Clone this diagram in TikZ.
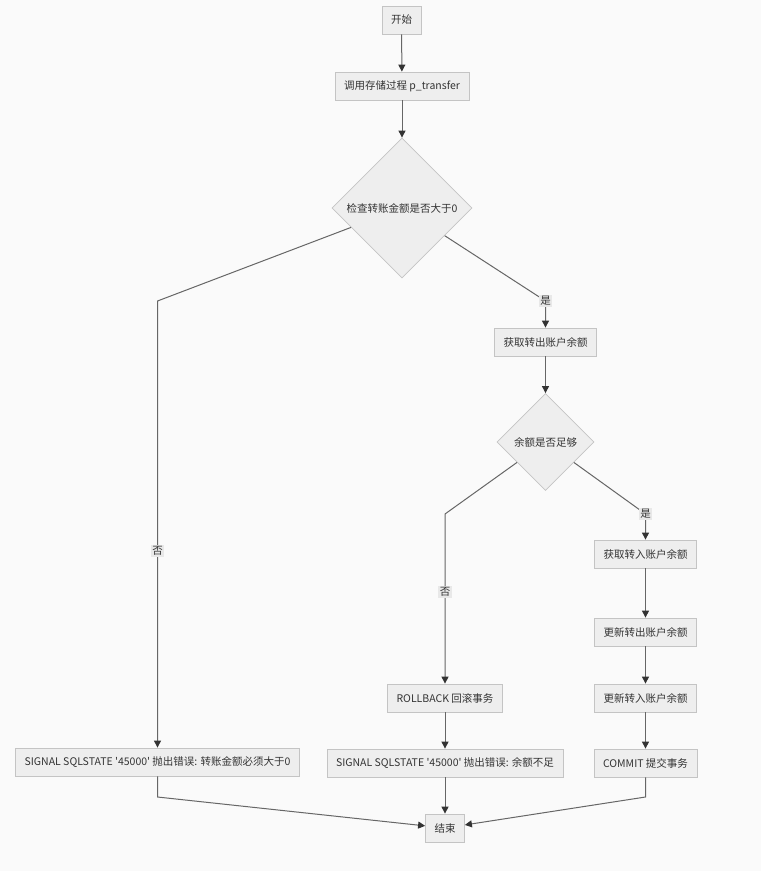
\documentclass[tikz,border=0pt]{standalone}
\usepackage{fontspec}
\setmainfont{Noto Sans CJK SC}
\usetikzlibrary{arrows.meta, positioning, shapes.geometric}
\definecolor{pagebg}{HTML}{FAFAFA}
\definecolor{boxfill}{HTML}{EEEEEE}
\definecolor{boxline}{HTML}{C4C4C4}
\definecolor{linegray}{HTML}{666666}
\definecolor{tipgray}{HTML}{333333}
\definecolor{textgray}{HTML}{333333}
\definecolor{labelfill}{HTML}{E8E8E8}

\begin{document}
\begin{tikzpicture}[x=1pt, y=-1pt,
    every node/.style={font=\fontsize{10.5}{12}\selectfont, text=textgray, align=center},
    procbox/.style={draw=boxline, fill=boxfill, rectangle, line width=0.8pt,
                    minimum height=28pt, inner xsep=9pt},
    decide/.style ={draw=boxline, fill=boxfill, diamond, line width=0.8pt, inner sep=0pt},
    arr/.style={-{Triangle[length=7pt,width=7pt,color=tipgray]}, draw=linegray, line width=1pt},
    elabel/.style={fill=labelfill, inner sep=1.5pt}
]
\fill[pagebg] (0,0) rectangle (761,871);
\useasboundingbox (0,0) rectangle (761,871);

\node[procbox] (start)   at (401.5, 20)  {开始};
\node[procbox] (call)    at (402,   86)  {调用存储过程 p\_transfer};
\node[decide, minimum width=140pt, minimum height=140pt] (chk) at (402, 208) {检查转账金额是否大于0};
\node[procbox] (getout)  at (545.5, 342) {获取转出账户余额};
\node[decide, minimum width=97pt, minimum height=97pt] (enough) at (545.5, 442) {余额是否足够};
\node[procbox] (getin)   at (645.5, 554) {获取转入账户余额};
\node[procbox] (updout)  at (645.5, 632) {更新转出账户余额};
\node[procbox] (updin)   at (645.5, 698) {更新转入账户余额};
\node[procbox] (commit)  at (645.5, 763) {COMMIT 提交事务};
\node[procbox] (rollbk)  at (445,   698) {ROLLBACK 回滚事务};
\node[procbox] (err2)    at (445,   763) {SIGNAL SQLSTATE \textquotesingle 45000\textquotesingle{} 抛出错误: 余额不足};
\node[procbox] (err1)    at (157.5, 762) {SIGNAL SQLSTATE \textquotesingle 45000\textquotesingle{} 抛出错误: 转账金额必须大于0};
\node[procbox] (finish)  at (445,   828) {结束};

% bend points
\coordinate (b1) at (157.5, 301);
\coordinate (b2) at (545.5, 301);
\coordinate (b3) at (445,   514);
\coordinate (b4) at (645.5, 514);
\coordinate (b5) at (157.5, 797);
\coordinate (b6) at (645.5, 797);

\draw[arr] (start)  -- (call);
\draw[arr] (call)   -- (chk);
\draw[arr] (chk)    -- (b1) -- node[elabel, pos=0.56] {否} (err1);
\draw[arr] (chk)    -- (b2) node[elabel] {是} -- (getout);
\draw[arr] (getout) -- (enough);
\draw[arr] (enough) -- (b3) -- node[elabel, pos=0.46] {否} (rollbk);
\draw[arr] (enough) -- (b4) node[elabel] {是} -- (getin);
\draw[arr] (getin)  -- (updout);
\draw[arr] (updout) -- (updin);
\draw[arr] (updin)  -- (commit);
\draw[arr] (rollbk) -- (err2);
\draw[arr] (err1)   -- (b5) -- (finish);
\draw[arr] (err2)   -- (finish);
\draw[arr] (commit) -- (b6) -- (finish);
\end{tikzpicture}
\end{document}
